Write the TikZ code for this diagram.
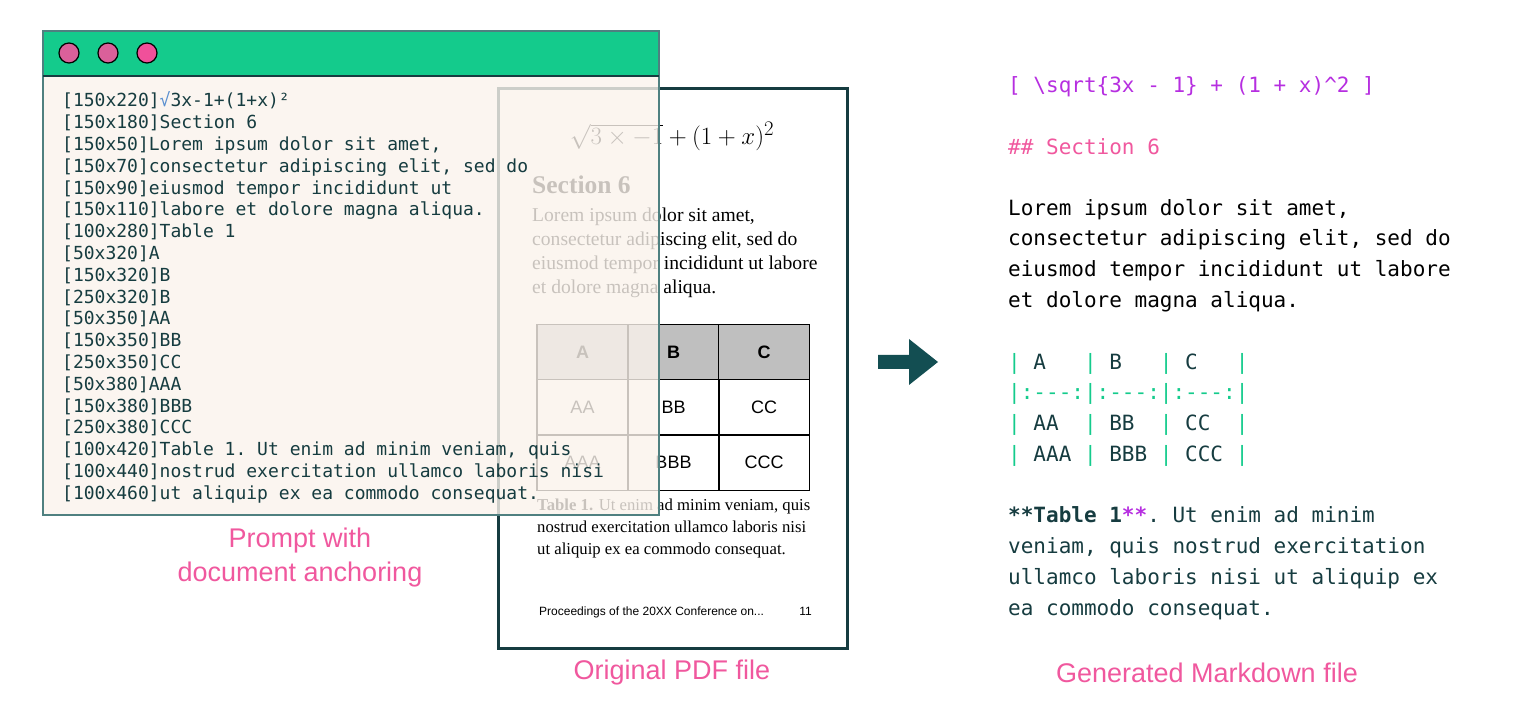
\documentclass[tikz,border=0pt]{standalone}
\usepackage{fontspec}
\setmainfont{Liberation Serif}
\setsansfont{Liberation Sans}
\setmonofont{DejaVu Sans Mono}
\usepackage{xcolor}
\usepackage{tikz}
\usetikzlibrary{positioning}
\definecolor{ink}{RGB}{22,60,64}
\definecolor{barc}{RGB}{20,203,140}
\definecolor{creamc}{RGB}{250,243,236}
\definecolor{framec}{RGB}{79,128,128}
\definecolor{dotc}{RGB}{218,96,154}
\definecolor{dotlitc}{RGB}{240,80,154}
\definecolor{pagec}{RGB}{22,60,64}
\definecolor{arrowc}{RGB}{19,78,82}
\definecolor{pinkc}{RGB}{240,88,158}
\definecolor{purplec}{RGB}{182,46,224}
\definecolor{rootc}{RGB}{90,143,208}
\definecolor{headc}{RGB}{191,191,191}

\begin{document}
\begin{tikzpicture}[x=1pt, y=-1pt,
  prompt/.style={anchor=base west, inner sep=0pt, text=ink, font=\ttfamily\fontsize{18}{22}\selectfont},
  md/.style={anchor=base west, inner sep=0pt, font=\ttfamily\fontsize{21}{31}\selectfont},
  pdftext/.style={anchor=base west, inner sep=0pt, font=\fontsize{19.6}{24}\selectfont},
  captext/.style={anchor=base west, inner sep=0pt, font=\fontsize{16.7}{22}\selectfont},
  cell/.style={draw=black, line width=1.2pt, minimum width=91pt, minimum height=55.5pt, inner sep=0pt, font=\sffamily\fontsize{18}{20}\selectfont},
  headcell/.style={cell, fill=headc, font=\sffamily\bfseries\fontsize{18}{20}\selectfont},
  caption/.style={text=pinkc, font=\sffamily\fontsize{27}{34}\selectfont, align=center}]
  \useasboundingbox (0,0) rectangle (1516,708);

  % original pdf page
  \draw[pagec, line width=3pt, fill=white] (498,89) rectangle (847,648);
  \node[anchor=base, inner sep=0pt, font=\fontsize{24.88}{30}\selectfont] (eq) at (672,145) {$\sqrt{3\times-1}+(1+x)^2$};
  \node[anchor=base west, inner sep=0pt, font=\bfseries\fontsize{25.5}{30}\selectfont] (sec) at (532,194) {Section 6};
  \node[pdftext] (p1) at (532,222) {Lorem ipsum dolor sit amet,};
  \node[pdftext] (p2) at (532,246) {consectetur adipiscing elit, sed do};
  \node[pdftext] (p3) at (532,270) {eiusmod tempor incididunt ut labore};
  \node[pdftext] (p4) at (532,294) {et dolore magna aliqua.};
  \node[headcell] (ha) at (582.5,352) {A};
  \node[headcell] (hb) at (673.5,352) {B};
  \node[headcell] (hc) at (764,352) {C};
  \node[cell] (ra) at (582.5,407.5) {AA};
  \node[cell] (rb) at (673.5,407.5) {BB};
  \node[cell] (rc) at (764,407.5) {CC};
  \node[cell] (sa) at (582.5,462.5) {AAA};
  \node[cell] (sb) at (673.5,462.5) {BBB};
  \node[cell] (sc) at (764,462.5) {CCC};
  \node[captext] (c1) at (537,510.5) {\textbf{Table 1.} Ut enim ad minim veniam, quis};
  \node[captext] (c2) at (537,532.5) {nostrud exercitation ullamco laboris nisi};
  \node[captext] (c3) at (537,554.5) {ut aliquip ex ea commodo consequat.};
  \node[anchor=base west, inner sep=0pt, font=\sffamily\fontsize{12}{14}\selectfont] (foot) at (539,615) {Proceedings of the 20XX Conference on...};
  \node[anchor=base east, inner sep=0pt, font=\sffamily\fontsize{12}{14}\selectfont] (pg) at (812,615) {11};

  % prompt window
  \fill[creamc, fill opacity=0.8] (43,76) rectangle (659,515);
  \fill[barc] (43,31) rectangle (659,76);
  \draw[framec, line width=1.5pt] (43,31) rectangle (659,515);
  \draw[ink, line width=1.2pt] (43,76) -- (659,76);
  \draw[black, fill=dotc, line width=1.2pt] (69,53) circle[radius=10pt];
  \draw[black, fill=dotc, line width=1.2pt] (108,53) circle[radius=10pt];
  \draw[black, fill=dotlitc, line width=1.2pt] (147,53) circle[radius=10pt];
  \foreach \ln [count=\i from 0] in {%
      {[150x220]\textcolor{rootc}{√}3x-1+(1+x)²},
      {[150x180]Section 6},
      {[150x50]Lorem ipsum dolor sit amet,},
      {[150x70]consectetur adipiscing elit, sed do},
      {[150x90]eiusmod tempor incididunt ut},
      {[150x110]labore et dolore magna aliqua.},
      {[100x280]Table 1},
      {[50x320]A},
      {[150x320]B},
      {[250x320]B},
      {[50x350]AA},
      {[150x350]BB},
      {[250x350]CC},
      {[50x380]AAA},
      {[150x380]BBB},
      {[250x380]CCC},
      {[100x420]Table 1. Ut enim ad minim veniam, quis},
      {[100x440]nostrud exercitation ullamco laboris nisi},
      {[100x460]ut aliquip ex ea commodo consequat.}}
    \node[prompt] (l\i) at (62,107+21.8*\i) {\ln};

  % arrow
  \fill[arrowc] (878,355) -- (909,355) -- (909,339) -- (938,362) -- (909,385) -- (909,369) -- (878,369) -- cycle;

  % generated markdown
  \node[md, text=purplec] (m0) at (1008,93) {[ \textbackslash sqrt\{3x - 1\} + (1 + x)\textasciicircum 2 ]};
  \node[md, text=pinkc] (m2) at (1008,155) {\#\# Section 6};
  \node[md, text=black] (m4) at (1008,215.5) {Lorem ipsum dolor sit amet,};
  \node[md, text=black] (m5) at (1008,246) {consectetur adipiscing elit, sed do};
  \node[md, text=black] (m6) at (1008,276.5) {eiusmod tempor incididunt ut labore};
  \node[md, text=black] (m7) at (1008,307.5) {et dolore magna aliqua.};
  \node[md, text=ink] (m9) at (1008,369.5) {\textcolor{barc}{|} A~~~\textcolor{barc}{|} B~~~\textcolor{barc}{|} C~~~\textcolor{barc}{|}};
  \node[md, text=barc] (m10) at (1008,400) {|:-{}-{}-:|:-{}-{}-:|:-{}-{}-:|};
  \node[md, text=ink] (m11) at (1008,430.5) {\textcolor{barc}{|} AA~~\textcolor{barc}{|} BB~~\textcolor{barc}{|} CC~~\textcolor{barc}{|}};
  \node[md, text=ink] (m12) at (1008,461.5) {\textcolor{barc}{|} AAA \textcolor{barc}{|} BBB \textcolor{barc}{|} CCC \textcolor{barc}{|}};
  \node[md, text=ink] (m14) at (1008,522.5) {\textbf{**Table 1}\textcolor{purplec}{\textbf{**}}. Ut enim ad minim};
  \node[md, text=ink] (m15) at (1008,553.5) {veniam, quis nostrud exercitation};
  \node[md, text=ink] (m16) at (1008,584) {ullamco laboris nisi ut aliquip ex};
  \node[md, text=ink] (m17) at (1008,615) {ea commodo consequat.};

  % captions
  \node[caption] (cap1) at (300,558) {Prompt with\\document anchoring};
  \node[caption] (cap2) at (672,673) {Original PDF file};
  \node[caption] (cap3) at (1207,673) {Generated Markdown file};
\end{tikzpicture}
\end{document}
